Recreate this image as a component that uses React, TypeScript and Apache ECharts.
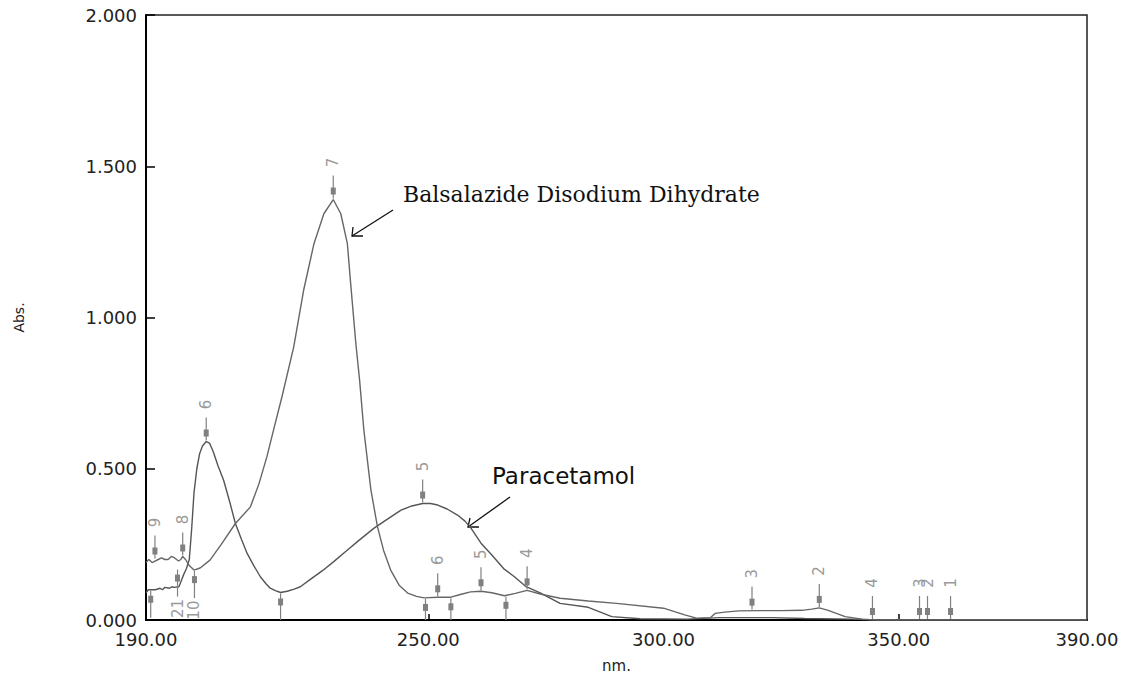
import React, { useEffect, useRef } from "react";
import * as echarts from "echarts";

// ---- data ----
const xTickLabels = [190, 250, 300, 350, 390];
const yTicks = [0, 0.5, 1, 1.5, 2];

const paraNm = [190, 190.5, 191, 192, 193, 193.5, 194, 195, 195.5, 196, 197, 197.5, 198, 198.6, 199.2, 199.7, 200.2, 200.8, 201.4, 202, 202.8, 203.5, 204.3, 205.3, 206.5, 207.8, 209, 210.2, 211.5, 212.9, 214.3, 215.5, 216.4, 217.5, 218.6, 220, 221.5, 222.8, 225, 227.5, 229.9, 232.5, 235, 238.4, 241, 244.2, 246.5, 248.8, 250.5, 252, 254, 256.2, 257.8, 259.1, 261.2, 263.5, 266, 268.3, 270.8, 274, 278, 284, 289, 295, 305, 312, 323, 330, 340, 345, 390];
const paraAbs = [0.09, 0.1, 0.1, 0.1, 0.105, 0.1, 0.108, 0.105, 0.11, 0.108, 0.11, 0.13, 0.15, 0.17, 0.2, 0.3, 0.42, 0.5, 0.55, 0.575, 0.59, 0.585, 0.556, 0.51, 0.462, 0.39, 0.319, 0.27, 0.22, 0.18, 0.143, 0.12, 0.105, 0.097, 0.091, 0.095, 0.102, 0.11, 0.135, 0.163, 0.193, 0.227, 0.26, 0.303, 0.33, 0.363, 0.377, 0.385, 0.385, 0.38, 0.367, 0.347, 0.327, 0.303, 0.254, 0.215, 0.17, 0.143, 0.11, 0.088, 0.055, 0.042, 0.011, 0.004, 0.003, 0.008, 0.008, 0.005, 0.003, 0, 0];

const balNm = [190, 190.6, 191.3, 191.9, 192.6, 193.3, 194, 194.7, 195.4, 196.1, 196.9, 197.4, 197.8, 198.4, 199.2, 200.2, 201.5, 203.6, 206, 209, 212.2, 214, 215.7, 217.3, 218.9, 221.4, 223.5, 225.7, 227.8, 229.8, 231.4, 232.8, 233.5, 234.6, 235.4, 236.3, 237.8, 239.2, 240.5, 242, 243.8, 245.6, 247.5, 249.1, 252, 254.6, 257, 259, 261.2, 263.5, 266.2, 268.5, 271, 274, 278, 284, 290, 300, 304.5, 307, 310, 311, 313, 316, 320, 325, 329.4, 331.5, 333.1, 335, 338.6, 342.2, 345, 390];
const balAbs = [0.19, 0.2, 0.19, 0.195, 0.2, 0.205, 0.2, 0.2, 0.21, 0.205, 0.195, 0.2, 0.21, 0.2, 0.18, 0.165, 0.172, 0.198, 0.25, 0.319, 0.374, 0.45, 0.54, 0.64, 0.738, 0.903, 1.09, 1.244, 1.343, 1.39, 1.343, 1.244, 1.112, 0.914, 0.793, 0.628, 0.43, 0.308, 0.23, 0.165, 0.115, 0.089, 0.078, 0.073, 0.075, 0.075, 0.085, 0.093, 0.095, 0.09, 0.08, 0.088, 0.098, 0.085, 0.072, 0.063, 0.055, 0.039, 0.017, 0.006, 0.008, 0.022, 0.026, 0.03, 0.031, 0.031, 0.032, 0.036, 0.04, 0.032, 0.011, 0.003, 0, 0];

const peakNm = [191.9, 197.8, 229.8, 202.8, 248.8, 252, 261.2, 271, 318.8, 333.1, 344.4, 354.4, 356.1, 361];
const peakAbs = [0.2, 0.21, 1.39, 0.59, 0.385, 0.075, 0.095, 0.098, 0.031, 0.04, 0, 0, 0, 0];
const peakLabel = ["9", "8", "7", "6", "5", "6", "5", "4", "3", "2", "4", "3", "2", "1"];

const valleyNm = [191, 196.7, 200.3, 218.6, 249.4, 254.8, 266.5];
const valleyAbs = [0.1, 0.17, 0.165, 0.091, 0.073, 0.075, 0.08];
const valleyLabel = ["", "21", "10", "", "", "", ""];

const MARK = "#808080";
const MARK_TEXT = "#9a9a9a";
const LINE = "#555555";

export default function App() {
  const ref = useRef<HTMLDivElement>(null);
  useEffect(() => {
    document.body.style.margin = "0";
    const chart = echarts.init(ref.current!, null, { renderer: "svg" });
    const peakData = peakNm.map((x, i) => [x, peakAbs[i]]);
    const valleyData = valleyNm.map((x, i) => [x, valleyAbs[i]]);
    chart.setOption({
      animation: false,
      backgroundColor: "#fff",
      grid: {
        left: 146, right: 36, top: 15, bottom: 59,
        show: true, borderColor: "#222", borderWidth: 1.5,
      },
      xAxis: {
        type: "value", min: 190, max: 390,
        name: "nm.", nameLocation: "middle", nameGap: 38,
        nameTextStyle: { fontFamily: "DejaVu Sans", fontSize: 15, color: "#222" },
        axisLine: { show: true, lineStyle: { color: "#000", width: 2 } },
        axisTick: { show: true, inside: true, length: 6, customValues: [250, 350], lineStyle: { color: "#000", width: 1.5 } },
        axisLabel: {
          customValues: xTickLabels,
          formatter: (v: number) => v.toFixed(2),
          fontFamily: "DejaVu Sans", fontSize: 18, color: "#222", margin: 10,
        },
        splitLine: { show: false },
      },
      yAxis: {
        type: "value", min: 0, max: 2, interval: 0.5,
        name: "Abs.", nameLocation: "middle", nameGap: 120, nameRotate: 90,
        nameTextStyle: { fontFamily: "DejaVu Sans", fontSize: 14, color: "#222" },
        axisLine: { show: true, lineStyle: { color: "#000", width: 2 } },
        axisTick: { show: true, inside: true, length: 9, lineStyle: { color: "#000", width: 1.5 } },
        axisLabel: {
          formatter: (v: number) => (yTicks.indexOf(v) >= 0 ? v.toFixed(3) : ""),
          fontFamily: "DejaVu Sans", fontSize: 18, color: "#222", margin: 9,
        },
        splitLine: { show: false },
      },
      series: [
        {
          name: "Paracetamol", type: "line", showSymbol: false,
          data: paraNm.map((x, i) => [x, paraAbs[i]]),
          lineStyle: { color: LINE, width: 1.4 },
        },
        {
          name: "Balsalazide Disodium Dihydrate", type: "line", showSymbol: false,
          data: balNm.map((x, i) => [x, balAbs[i]]),
          lineStyle: { color: "#666666", width: 1.4 },
        },
        {
          type: "custom", data: peakData, z: 5,
          renderItem: (params: any, api: any) => {
            const p = api.coord([api.value(0), api.value(1)]);
            const lab = peakLabel[params.dataIndex];
            return {
              type: "group",
              children: [
                { type: "line", shape: { x1: p[0], y1: p[1] - 24, x2: p[0], y2: p[1] - 1 }, style: { stroke: MARK, lineWidth: 1.2 } },
                { type: "rect", shape: { x: p[0] - 2.5, y: p[1] - 12, width: 5, height: 7 }, style: { fill: MARK } },
                { type: "text", x: p[0], y: p[1] - 37, rotation: Math.PI / 2,
                  style: { text: lab, fill: MARK_TEXT, font: "15px 'DejaVu Sans'", align: "center", verticalAlign: "middle" } },
              ],
            };
          },
        },
        {
          type: "custom", data: valleyData, z: 5,
          renderItem: (params: any, api: any) => {
            const p = api.coord([api.value(0), api.value(1)]);
            const base = api.coord([api.value(0), 0])[1];
            const end = Math.min(p[1] + 28, base);
            const lab = valleyLabel[params.dataIndex];
            const children: any[] = [
              { type: "line", shape: { x1: p[0], y1: p[1] + 1, x2: p[0], y2: end }, style: { stroke: MARK, lineWidth: 1.2 } },
              { type: "rect", shape: { x: p[0] - 2.5, y: p[1] + 6, width: 5, height: 7 }, style: { fill: MARK } },
            ];
            if (lab) {
              children.push({ type: "text", x: p[0], y: Math.min(end + 12, base - 8), rotation: Math.PI / 2,
                style: { text: lab, fill: MARK_TEXT, font: "15px 'DejaVu Sans'", align: "center", verticalAlign: "middle" } });
            }
            return { type: "group", children };
          },
        },
      ],
      graphic: [
        { type: "text", left: 403, top: 183,
          style: { text: "Balsalazide Disodium Dihydrate", font: "22px 'DejaVu Serif'", fill: "#111" } },
        { type: "line", shape: { x1: 393, y1: 210, x2: 352, y2: 236 }, style: { stroke: "#111", lineWidth: 1.3 } },
        { type: "polyline", shape: { points: [[353, 227], [352, 236], [363, 236]] }, style: { stroke: "#111", lineWidth: 1.3, fill: "none" } },
        { type: "text", left: 492, top: 464,
          style: { text: "Paracetamol", font: "23px 'DejaVu Sans'", fill: "#111" } },
        { type: "line", shape: { x1: 510, y1: 497, x2: 468, y2: 527 }, style: { stroke: "#111", lineWidth: 1.3 } },
        { type: "polyline", shape: { points: [[470, 518], [468, 527], [479, 527]] }, style: { stroke: "#111", lineWidth: 1.3, fill: "none" } },
      ],
    });
    return () => chart.dispose();
  }, []);
  return <div ref={ref} style={{ width: 1123, height: 679 }} />;
}
